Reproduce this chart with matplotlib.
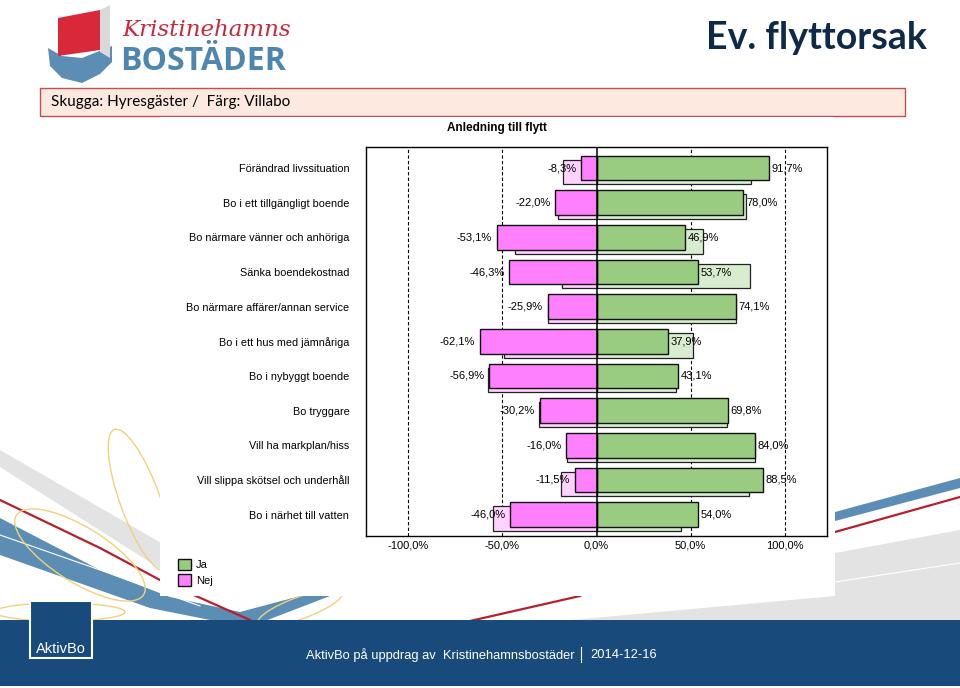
import numpy as np
import matplotlib.pyplot as plt
from matplotlib.patches import Polygon, Rectangle, Ellipse

categories = [
    "Förändrad livssituation",
    "Bo i ett tillgängligt boende",
    "Bo närmare vänner och anhöriga",
    "Sänka boendekostnad",
    "Bo närmare affärer/annan service",
    "Bo i ett hus med jämnåriga",
    "Bo i nybyggt boende",
    "Bo tryggare",
    "Vill ha markplan/hiss",
    "Vill slippa skötsel och underhåll",
    "Bo i närhet till vatten",
]
# Villabo (colour)
villabo_ja = [91.7, 78.0, 46.9, 53.7, 74.1, 37.9, 43.1, 69.8, 84.0, 88.5, 54.0]
villabo_nej = [8.3, 22.0, 53.1, 46.3, 25.9, 62.1, 56.9, 30.2, 16.0, 11.5, 46.0]
# Hyresgäster (shadow)
hyres_ja = [82.0, 79.4, 56.7, 81.7, 74.0, 51.1, 42.2, 69.6, 84.4, 81.1, 44.8]
hyres_nej = [18.0, 20.6, 43.3, 18.3, 26.0, 48.9, 57.8, 30.4, 15.6, 18.9, 55.2]
xticks = [-100, -50, 0, 50, 100]

GREEN = "#99cc80"
PINK = "#ff80ff"
GREEN_L = "#d8edcf"
PINK_L = "#ffd2ff"
ARIAL = "Liberation Sans"


def pct(v):
    return f"{v:.1f}%".replace(".", ",")


def main():
    fig = plt.figure(figsize=(9.6, 6.88), dpi=100)

    # background / slide decoration in pixel coordinates
    bg = fig.add_axes([0, 0, 1, 1])
    bg.set_xlim(0, 960)
    bg.set_ylim(688, 0)
    bg.axis("off")

    def poly(pts, color, z=1):
        bg.add_patch(Polygon(pts, closed=True, facecolor=color, edgecolor="none", zorder=z))

    poly([(0, 450), (0, 467), (170, 575), (170, 548)], "#e3e3e3")
    poly([(560, 621), (835, 596), (960, 588), (960, 621)], "#e3e3e3")
    poly([(835, 553), (960, 530), (960, 600), (835, 600)], "#e3e3e3")
    bg.plot([835, 960], [582, 563], color="white", lw=0.8, zorder=2)
    poly([(0, 518), (0, 555), (150, 608), (215, 621), (265, 621), (330, 596),
          (300, 596), (240, 612), (170, 597), (100, 570)], "#5b8db5")
    poly([(835, 512), (960, 478), (960, 488), (835, 521)], "#5b8db5")
    bg.plot([0, 100, 200], [535, 570, 606], color="white", lw=0.8, zorder=2)
    bg.plot([0, 100, 160, 250], [500, 548, 580, 620], color="#b81f2d", lw=1.6, zorder=2)
    bg.plot([835, 960], [532, 497], color="#b81f2d", lw=1.6, zorder=2)
    bg.plot([470, 580], [621, 596], color="#b81f2d", lw=1.6, zorder=2)
    for c, w, h, a in [((80, 555), 150, 55, 32), ((140, 500), 40, 150, -20),
                       ((60, 612), 130, 18, 0), ((300, 608), 90, 22, -20)]:
        bg.add_patch(Ellipse(c, w, h, angle=a, fill=False, edgecolor="#efd27a",
                             lw=1.0, zorder=3))

    # white chart panel
    bg.add_patch(Rectangle((160, 117), 675, 479, facecolor="white",
                           edgecolor="none", zorder=5))

    # footer
    bg.add_patch(Rectangle((0, 620), 960, 66, facecolor="#184a7c",
                           edgecolor="none", zorder=6))
    bg.add_patch(Rectangle((30, 601), 62, 57, facecolor="#184a7c",
                           edgecolor="white", lw=1.5, zorder=7))
    bg.text(61, 649, "AktivBo", color="white", fontsize=10.5, fontfamily=ARIAL,
            ha="center", va="center", zorder=8)
    bg.text(306, 655, "AktivBo på uppdrag av  Kristinehamnsbostäder", color="white",
            fontsize=9.3, fontfamily=ARIAL, ha="left", va="center", zorder=8)
    bg.plot([581, 581], [647, 662], color="white", lw=0.8, zorder=8)
    bg.text(590, 655, "2014-12-16", color="white", fontsize=9.3, fontfamily=ARIAL,
            ha="left", va="center", zorder=8)

    # logo
    poly([(48, 48), (62, 56), (82, 58), (112, 46), (112, 62), (100, 74),
          (82, 83), (62, 78), (50, 66)], "#5b8db5", 3)
    poly([(58, 18), (100, 10), (100, 50), (58, 56)], "#d8283a", 3)
    poly([(100, 10), (110, 5), (110, 58), (100, 52)], "#d9d9d9", 3)
    bg.text(122, 30, "Kristinehamns", color="#c8283c", fontsize=16.5, fontstyle="italic",
            fontfamily="DejaVu Serif", ha="left", va="center", zorder=4)
    bg.text(120, 62, "BOSTÄDER", color="#4f86b0", fontsize=23, fontweight="bold",
            fontfamily="Open Sans", ha="left", va="center", zorder=4)

    bg.text(927, 38, "Ev. flyttorsak", color="#0f2a48", fontsize=27, fontweight="bold",
            fontfamily="Lato", ha="right", va="center", zorder=4)
    bg.add_patch(Rectangle((40, 88), 865, 28, facecolor="#fde9df",
                           edgecolor="#c0504d", lw=1, zorder=4))
    bg.text(51, 102, "Skugga: Hyresgäster /  Färg: Villabo", color="black",
            fontsize=11, fontfamily="Lato", ha="left", va="center", zorder=5)
    bg.text(497, 128, "Anledning till flytt", color="black", fontsize=8.5,
            fontweight="bold", fontfamily=ARIAL, ha="center", va="center", zorder=6)

    # chart
    ax = fig.add_axes([366 / 960, 1 - 536 / 688, 461 / 960, 389 / 688])
    ax.set_zorder(10)
    y = np.arange(len(categories))
    h = 0.71
    ys = y + 0.115

    ax.barh(ys, hyres_ja, height=h, color=GREEN_L, edgecolor="#222222", lw=0.9, zorder=2)
    ax.barh(ys, [-v for v in hyres_nej], height=h, color=PINK_L, edgecolor="#222222",
            lw=0.9, zorder=2)
    bj = ax.barh(y, villabo_ja, height=h, color=GREEN, edgecolor="#111111", lw=1, zorder=3)
    bn = ax.barh(y, [-v for v in villabo_nej], height=h, color=PINK, edgecolor="#111111",
                 lw=1, zorder=3)

    for i in range(len(categories)):
        ax.text(villabo_ja[i] + 1.5, y[i], pct(villabo_ja[i]), fontsize=8,
                fontfamily=ARIAL, ha="left", va="center", zorder=5)
        ax.text(-villabo_nej[i] - 2.5, y[i], pct(-villabo_nej[i]), fontsize=8,
                fontfamily=ARIAL, ha="right", va="center", zorder=5)

    for v in [-100, -50, 50, 100]:
        ax.axvline(v, color="black", lw=0.8, ls=(0, (3, 2)), zorder=1)
    ax.axvline(0, color="black", lw=1.1, zorder=4)

    ax.set_xlim(-122.5, 122.5)
    ax.set_ylim(10.62, -0.61)
    ax.set_xticks(xticks)
    ax.set_xticklabels([pct(v) for v in xticks], fontsize=8, fontfamily=ARIAL)
    ax.set_yticks(y)
    ax.set_yticklabels(categories, fontsize=7.8, fontfamily=ARIAL)
    ax.tick_params(axis="y", length=0, pad=12)
    ax.tick_params(axis="x", length=0, pad=3)
    for s in ax.spines.values():
        s.set_linewidth(1)

    fig.legend(handles=[bj, bn], labels=["Ja", "Nej"], loc="upper left",
               bbox_to_anchor=(168 / 960, 1 - 549 / 688), frameon=False,
               handlelength=1.2, handleheight=1.2, handletextpad=0.4,
               labelspacing=0.35, prop={"family": ARIAL, "size": 8})

    fig.savefig("out.png", dpi=100)


if __name__ == "__main__":
    main()
